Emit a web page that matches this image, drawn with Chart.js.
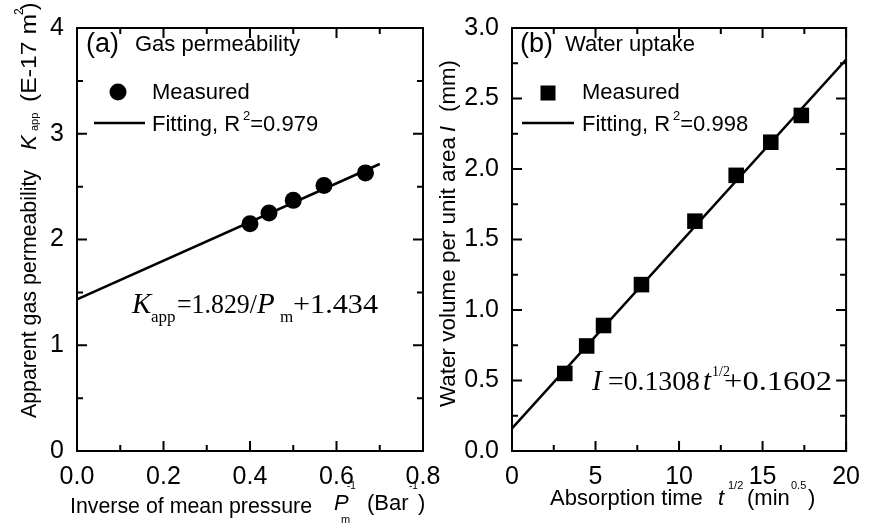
<!DOCTYPE html>
<html>
<head>
<meta charset="utf-8">
<script src="https://cdn.jsdelivr.net/npm/chart.js@4.4.1/dist/chart.umd.min.js"></script>
<style>
html, body { margin: 0; padding: 0; background: #fff; }
#wrap { position: relative; width: 871px; height: 525px; }
canvas { position: absolute; left: 0; top: 0; }
</style>
</head>
<body>
<div id="wrap">
  <canvas id="gas" width="871" height="525"></canvas>
  <canvas id="water" width="871" height="525"></canvas>
</div>
<script>
// (a) gas permeability
var invPressure = [0.4, 0.444, 0.5, 0.571, 0.667];
var kApp = [2.15, 2.25, 2.37, 2.51, 2.63];
var gasFitX = [0, 0.7];
var gasFitY = [1.434, 2.714];
var gasXTicks = [0, 0.2, 0.4, 0.6, 0.8];
var gasXLabels = ['0.0', '0.2', '0.4', '0.6', '0.8'];
var gasYTicks = [0, 1, 2, 3, 4];
var gasYLabels = ['0', '1', '2', '3', '4'];

// (b) water uptake
var sqrtTime = [3.16, 4.47, 5.48, 7.75, 10.95, 13.42, 15.49, 17.32];
var waterI = [0.55, 0.745, 0.89, 1.18, 1.63, 1.955, 2.19, 2.38];
var waterFitX = [0, 20];
var waterFitY = [0.1602, 2.776];
var waterXTicks = [0, 5, 10, 15, 20];
var waterXLabels = ['0', '5', '10', '15', '20'];
var waterYTicks = [0, 0.5, 1, 1.5, 2, 2.5, 3];
var waterYLabels = ['0.0', '0.5', '1.0', '1.5', '2.0', '2.5', '3.0'];

var SANS = '"Liberation Sans", Arial, sans-serif';
var SERIF = '"Liberation Serif", "Times New Roman", serif';

function pts(xs, ys) {
  return xs.map(function (x, i) { return { x: x, y: ys[i] }; });
}

// draws a row of text pieces; "at" = offset from origin, otherwise follows the previous piece
function drawSegs(ctx, segs) {
  var cx = 0;
  segs.forEach(function (s) {
    ctx.font = (s.it ? 'italic ' : '') + s.sz + 'px ' + (s.serif ? SERIF : SANS);
    if (s.at !== undefined) cx = s.at;
    cx += s.dx || 0;
    var w = ctx.measureText(s.t).width;
    ctx.save();
    ctx.translate(cx, s.dy || 0);
    if (s.w) ctx.scale(s.w / w, 1);
    ctx.fillText(s.t, 0, 0);
    ctx.restore();
    cx += s.w || w;
  });
}

function textAt(ctx, x, y, segs, rotate) {
  ctx.save();
  ctx.translate(x, y);
  if (rotate) ctx.rotate(-Math.PI / 2);
  drawSegs(ctx, segs);
  ctx.restore();
}

function frameAndTicks(chart, xMinor, yMinor) {
  var ctx = chart.ctx, a = chart.chartArea, sx = chart.scales.x, sy = chart.scales.y;
  var n, i, p, len;
  ctx.save();
  ctx.strokeStyle = '#000';
  ctx.lineWidth = 2;
  ctx.strokeRect(a.left, a.top, a.right - a.left, a.bottom - a.top);
  ctx.beginPath();
  n = Math.round((sx.max - sx.min) / xMinor);
  for (i = 0; i <= n; i++) {
    p = sx.getPixelForValue(sx.min + i * xMinor);
    len = i % 2 === 0 ? 10 : 6;
    ctx.moveTo(p, a.bottom); ctx.lineTo(p, a.bottom - len);
    ctx.moveTo(p, a.top); ctx.lineTo(p, a.top + len);
  }
  n = Math.round((sy.max - sy.min) / yMinor);
  for (i = 0; i <= n; i++) {
    p = sy.getPixelForValue(sy.min + i * yMinor);
    len = i % 2 === 0 ? 10 : 6;
    ctx.moveTo(a.left, p); ctx.lineTo(a.left + len, p);
    ctx.moveTo(a.right, p); ctx.lineTo(a.right - len, p);
  }
  ctx.stroke();
  ctx.restore();
}

function axisOpts(min, max, ticks, labels, isX, size) {
  return {
    type: 'linear',
    min: min,
    max: max,
    grid: { display: false, drawTicks: false },
    border: { display: false },
    afterBuildTicks: function (s) { s.ticks = ticks.map(function (v) { return { value: v }; }); },
    afterFit: function (s) { if (isX) s.height = size; else s.width = size; },
    ticks: {
      color: '#000',
      padding: isX ? 11 : 13,
      font: { family: SANS, size: 25 },
      callback: function (v, i) { return labels[i]; }
    }
  };
}

function legend(ctx, x0, lineFrom, lineTo, r2) {
  ctx.lineWidth = 2.5;
  ctx.beginPath(); ctx.moveTo(lineFrom, 123); ctx.lineTo(lineTo, 123); ctx.stroke();
  textAt(ctx, x0, 99, [{ t: 'Measured', sz: 22 }]);
  textAt(ctx, x0, 131, [
    { t: 'Fitting, R', sz: 22 },
    { t: '2', sz: 13, dx: 3, dy: -11 },
    { t: '=' + r2, sz: 22 }
  ]);
}

var gasDecor = {
  id: 'gasDecor',
  afterDatasetsDraw: function (chart) { frameAndTicks(chart, 0.1, 0.5); },
  afterDraw: function (chart) {
    var ctx = chart.ctx;
    ctx.save();
    ctx.fillStyle = '#000';
    ctx.strokeStyle = '#000';
    ctx.textBaseline = 'alphabetic';
    textAt(ctx, 86, 52, [{ t: '(a)', sz: 27 }, { t: 'Gas permeability', sz: 22, at: 49, dy: -1 }]);
    ctx.beginPath(); ctx.arc(118, 92, 8.5, 0, Math.PI * 2); ctx.fill();
    legend(ctx, 152, 94, 145, '0.979');
    // fitted equation
    textAt(ctx, 132, 313, [
      { t: 'K', sz: 29, it: true, serif: true },
      { t: 'app', sz: 17, serif: true, at: 19, dy: 9 },
      { t: '=1.829/', sz: 28, serif: true, at: 45, w: 80 },
      { t: 'P', sz: 29, it: true, serif: true, at: 125 },
      { t: 'm', sz: 17, serif: true, at: 148, dy: 9 },
      { t: '+1.434', sz: 28, serif: true, at: 161, w: 85 }
    ]);
    // x title
    textAt(ctx, 70, 513, [
      { t: 'Inverse of mean pressure', sz: 22, w: 242 },
      { t: 'P', sz: 22, it: true, at: 264, dy: -3 },
      { t: '-1', sz: 10, at: 277, dy: -24 },
      { t: 'm', sz: 11, at: 271, dy: 10 },
      { t: '(Bar', sz: 22, at: 297, dy: -3 },
      { t: '-1', sz: 10, at: 339, dy: -24 },
      { t: ')', sz: 22, at: 348, dy: -3 }
    ]);
    // y title
    textAt(ctx, 36, 418, [
      { t: 'Apparent gas permeability', sz: 22, w: 248 },
      { t: 'K', sz: 22, it: true, at: 268 },
      { t: 'app', sz: 11, at: 287, dy: 2 },
      { t: '(E-17 m', sz: 22, at: 316, w: 88 },
      { t: '2', sz: 12, at: 403, dy: -13 },
      { t: ')', sz: 22, at: 408 }
    ], true);
    ctx.restore();
  }
};

var waterDecor = {
  id: 'waterDecor',
  afterDatasetsDraw: function (chart) { frameAndTicks(chart, 2.5, 0.25); },
  afterDraw: function (chart) {
    var ctx = chart.ctx;
    ctx.save();
    ctx.fillStyle = '#000';
    ctx.strokeStyle = '#000';
    ctx.textBaseline = 'alphabetic';
    textAt(ctx, 520, 52, [{ t: '(b)', sz: 27 }, { t: 'Water uptake', sz: 22, at: 45, dy: -1 }]);
    ctx.fillRect(540.5, 85.5, 15, 15);
    legend(ctx, 582, 522, 574, '0.998');
    textAt(ctx, 592, 390, [
      { t: 'I', sz: 29, it: true, serif: true },
      { t: '=0.1308', sz: 28, serif: true, at: 16, w: 92 },
      { t: 't', sz: 29, it: true, serif: true, at: 111 },
      { t: '1/2', sz: 14, serif: true, at: 120, dy: -14 },
      { t: '+0.1602', sz: 28, serif: true, at: 132, w: 108 }
    ]);
    textAt(ctx, 550, 505, [
      { t: 'Absorption time', sz: 22 },
      { t: 't', sz: 22, it: true, at: 168 },
      { t: '1/2', sz: 11, at: 178, dy: -16 },
      { t: '(min', sz: 22, at: 197 },
      { t: '0.5', sz: 11, at: 241, dy: -16 },
      { t: ')', sz: 22, at: 258 }
    ]);
    textAt(ctx, 455, 407, [
      { t: 'Water volume per unit area', sz: 22, w: 270 },
      { t: 'I', sz: 22, it: true, at: 275 },
      { t: '(mm)', sz: 22, at: 295, w: 52 }
    ], true);
    ctx.restore();
  }
};

var baseOpts = {
  responsive: false,
  animation: false,
  events: [],
  plugins: { legend: { display: false }, tooltip: { enabled: false } }
};

new Chart(document.getElementById('gas'), {
  type: 'scatter',
  data: {
    datasets: [
      {
        label: 'Measured',
        data: pts(invPressure, kApp),
        pointStyle: 'circle',
        pointRadius: 8.5,
        backgroundColor: '#000',
        borderColor: '#000',
        borderWidth: 0
      },
      {
        label: 'Fitting',
        data: pts(gasFitX, gasFitY),
        showLine: true,
        pointRadius: 0,
        borderColor: '#000',
        borderWidth: 2.5
      }
    ]
  },
  options: Object.assign({}, baseOpts, {
    layout: { padding: { left: 0, top: 15, right: 448, bottom: 0 } },
    scales: {
      x: axisOpts(0, 0.8, gasXTicks, gasXLabels, true, 74),
      y: axisOpts(0, 4, gasYTicks, gasYLabels, false, 77)
    }
  }),
  plugins: [gasDecor]
});

new Chart(document.getElementById('water'), {
  type: 'scatter',
  data: {
    datasets: [
      {
        label: 'Measured',
        data: pts(sqrtTime, waterI),
        pointStyle: 'rect',
        pointRadius: 11,
        backgroundColor: '#000',
        borderColor: '#000',
        borderWidth: 0
      },
      {
        label: 'Fitting',
        data: pts(waterFitX, waterFitY),
        showLine: true,
        pointRadius: 0,
        borderColor: '#000',
        borderWidth: 2.5
      }
    ]
  },
  options: Object.assign({}, baseOpts, {
    layout: { padding: { left: 0, top: 15, right: 14, bottom: 0 } },
    scales: {
      x: axisOpts(0, 20, waterXTicks, waterXLabels, true, 74),
      y: axisOpts(0, 3, waterYTicks, waterYLabels, false, 512)
    }
  }),
  plugins: [waterDecor]
});
</script>
</body>
</html>
